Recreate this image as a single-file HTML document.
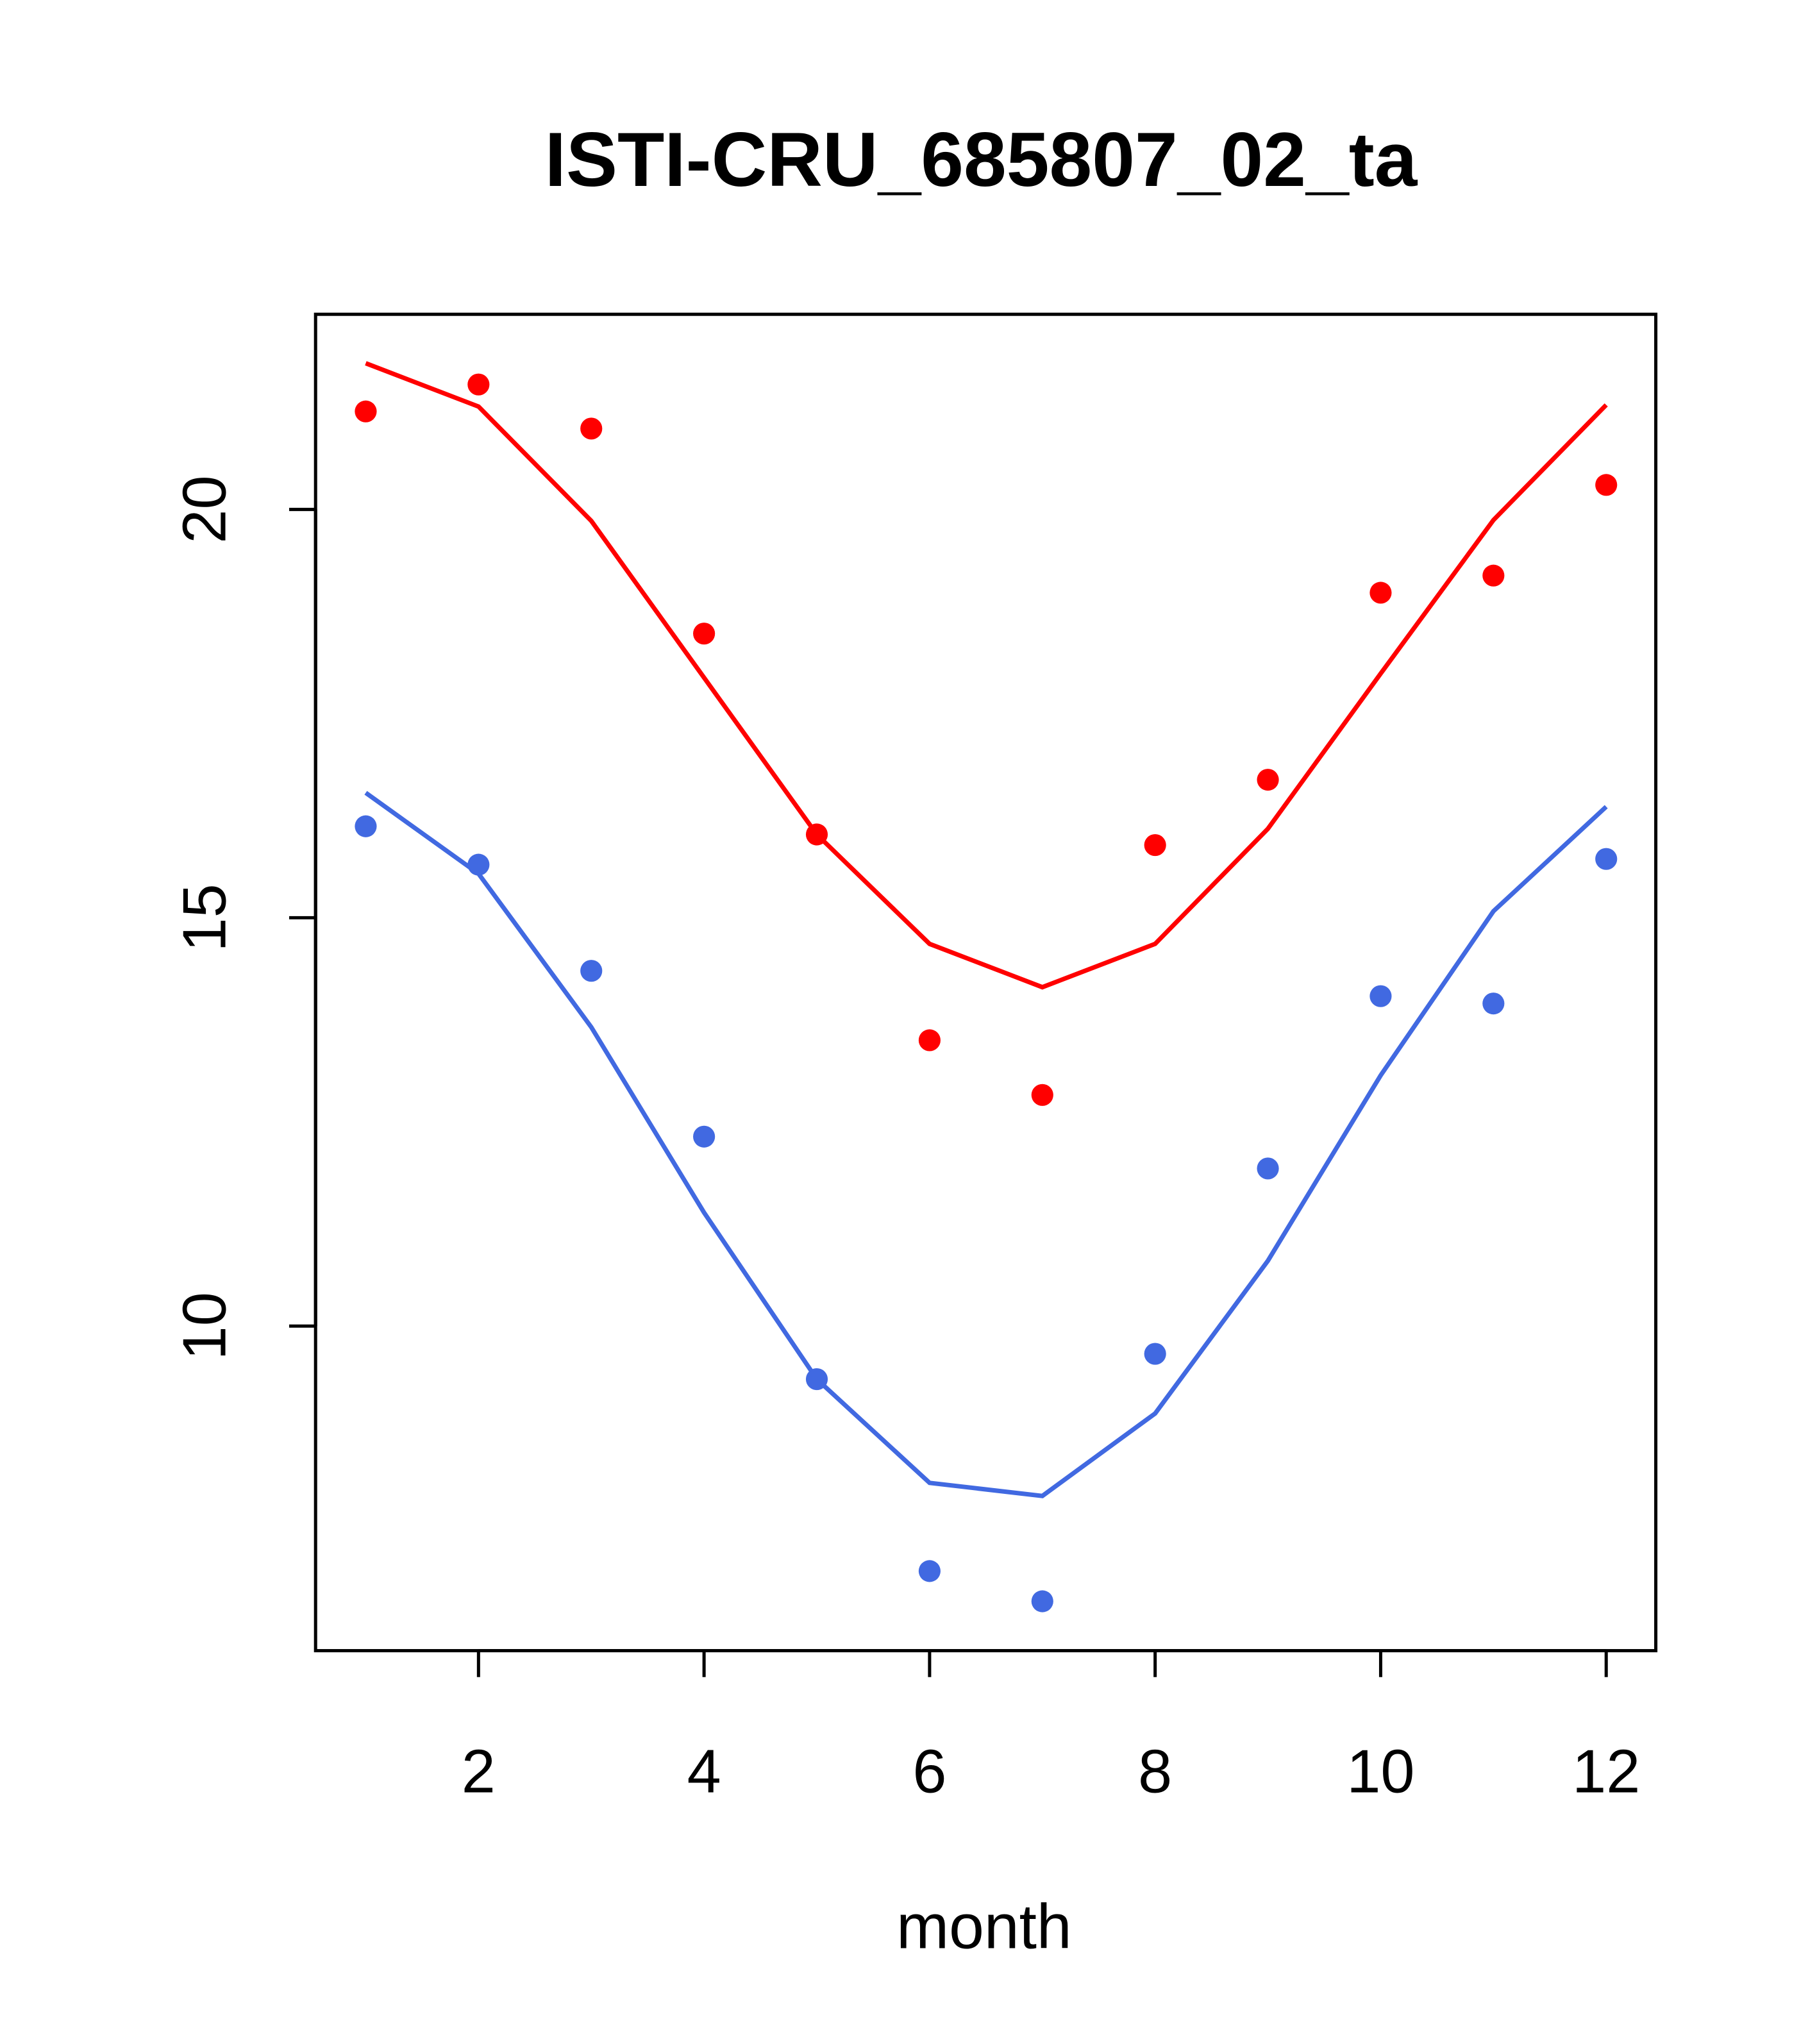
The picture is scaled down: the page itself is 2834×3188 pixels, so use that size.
<!DOCTYPE html>
<html><head><meta charset="utf-8"><style>html,body{margin:0;padding:0;background:#fff}svg{display:block}</style></head>
<body>
<svg id="chart" width="2834" height="3188" xmlns="http://www.w3.org/2000/svg" font-family="Liberation Sans, sans-serif">
<rect width="2834" height="3188" fill="#fff"/>
<text x="1530" y="290" font-size="120" font-weight="bold" text-anchor="middle">ISTI-CRU_685807_02_ta</text>
<g transform="scale(1.0045)">
<rect x="490" y="488" width="2081" height="2075" fill="none" stroke="#000" stroke-width="5"/>
<text x="1528" y="3025" font-size="98" text-anchor="middle">month</text>
<g id="xaxis"></g>
<g id="yaxis"></g>
<g id="series"></g>
</g>
</svg>
<script>
const months = [1,2,3,4,5,6,7,8,9,10,11,12];
const redPoints = [21.2,21.53,20.99,18.48,16.02,13.5,12.83,15.89,16.69,18.98,19.19,20.3];
const redLine = [21.79,21.26,19.86,17.94,16.02,14.68,14.15,14.68,16.09,17.99,19.87,21.28];
const bluePoints = [16.12,15.65,14.35,12.32,9.35,7.0,6.63,9.66,11.93,14.04,13.95,15.72];
const blueLine = [16.53,15.54,13.66,11.39,9.35,8.08,7.92,8.93,10.8,13.07,15.08,16.36];
const xTicks = [2,4,6,8,10,12];
const yTicks = [10,15,20];

const NS = "http://www.w3.org/2000/svg";
function x(m){return 743 + (m-2)*175.1;}
function y(v){return 2059 - (v-10)*126.8;}
function mk(tag, attrs, parent){const e=document.createElementNS(NS,tag);for(const k in attrs)e.setAttribute(k,attrs[k]);parent.appendChild(e);return e;}

const xa=document.getElementById('xaxis');
mk('line',{x1:x(xTicks[0]),x2:x(xTicks[xTicks.length-1]),y1:2563,y2:2563,stroke:'#000','stroke-width':5},xa);
xTicks.forEach(t=>{
  const l=mk('line',{x1:x(t),x2:x(t),y1:2563,y2:2604,stroke:'#000','stroke-width':5},xa);
  
  
  const tx=mk('text',{x:x(t),y:2783,'font-size':95,'text-anchor':'middle'},xa);
  tx.textContent=t;
  
  
});
const ya=document.getElementById('yaxis');
mk('line',{x1:490,x2:490,y1:y(yTicks[0]),y2:y(yTicks[yTicks.length-1]),stroke:'#000','stroke-width':5},ya);
yTicks.forEach(t=>{
  const l=mk('line',{x1:449,x2:490,y1:y(t),y2:y(t),stroke:'#000','stroke-width':5},ya);
  
  
  const tx=mk('text',{x:0,y:0,'font-size':95,'text-anchor':'middle',transform:`translate(350,${y(t)}) rotate(-90)`},ya);
  tx.textContent=t;
  
  
});
const sg=document.getElementById('series');
function drawLine(vals,color,name){
  const p=mk('polyline',{points:vals.map((v,i)=>x(months[i])+','+y(v)).join(' '),fill:'none',stroke:color,'stroke-width':7},sg);
  
  
}
function drawPts(vals,color,name){
  vals.forEach((v,i)=>{
    const c=mk('circle',{cx:x(months[i]),cy:y(v),r:17,fill:color},sg);
    
    
  });
}
drawLine(redLine,'#ff0000','red-line');
drawLine(blueLine,'#4169e1','blue-line');
drawPts(redPoints,'#ff0000','red-point');
drawPts(bluePoints,'#4169e1','blue-point');
</script>
</body></html>
